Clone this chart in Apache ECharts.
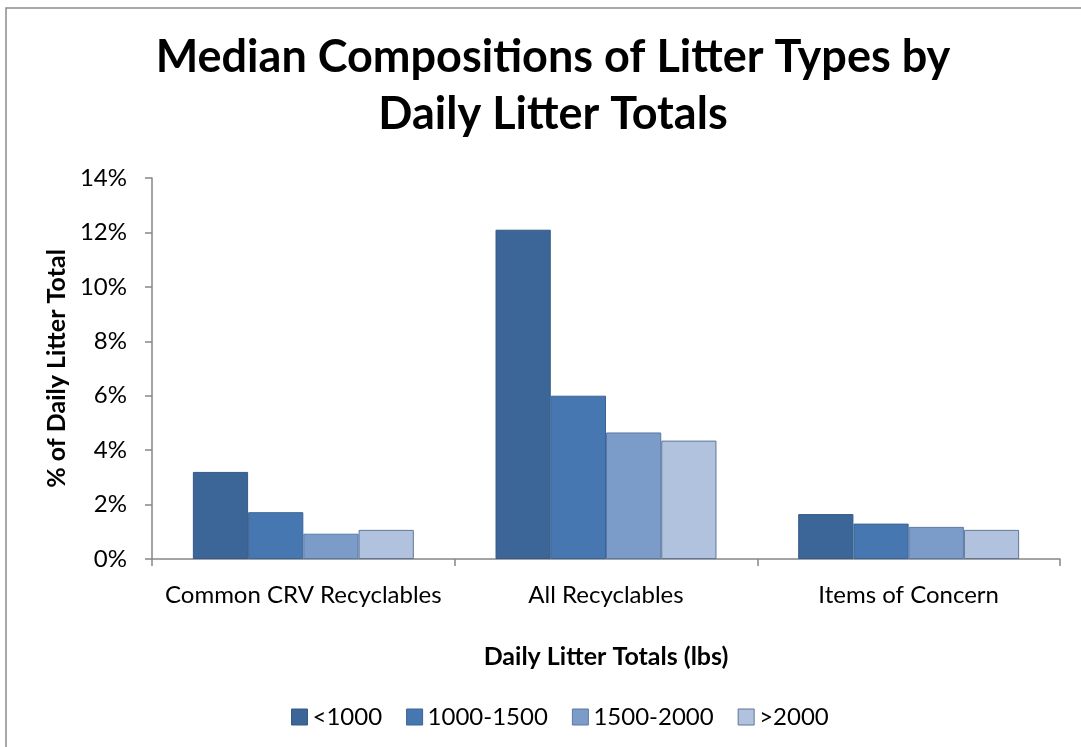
<!DOCTYPE html>
<html>
<head>
<meta charset="utf-8">
<script src="https://cdn.jsdelivr.net/npm/echarts@6/dist/echarts.min.js"></script>
<style>
  html, body { margin: 0; padding: 0; background: #ffffff; }
  #chart { width: 1081px; height: 747px; }
</style>
</head>
<body>
<div id="chart"></div>
<script>
// Litter categories along the x axis
const categories = ['Common CRV Recyclables', 'All Recyclables', 'Items of Concern'];

// Daily litter total bands (lbs)
const bandNames = ['<1000', '1000-1500', '1500-2000', '>2000'];

// Median share of the daily litter total, in percent
const under1000 = [3.2, 12.1, 1.65];
const from1000to1500 = [1.72, 6.0, 1.3];
const from1500to2000 = [0.93, 4.65, 1.18];
const over2000 = [1.07, 4.35, 1.07];

// y axis ticks (percent)
const yTicks = { min: 0, max: 14, interval: 2 };

const fills = ['#3c6698', '#4677b0', '#7b9bc9', '#b1c2de'];
const edges = ['#355a86', '#3a6497', '#5a79a6', '#5f7598'];

const font = 'Lato, "Open Sans", sans-serif';
const seriesValues = [under1000, from1000to1500, from1500to2000, over2000];

const chart = echarts.init(document.getElementById('chart'), null, { renderer: 'canvas' });

chart.setOption({
  backgroundColor: '#ffffff',
  animation: false,
  graphic: [{
    type: 'rect',
    shape: { x: 6, y: 8, width: 1100, height: 800 },
    style: { fill: 'none', stroke: '#8c8c8c', lineWidth: 1.5 },
    silent: true
  }],
  title: {
    text: 'Median Compositions of Litter Types by\nDaily Litter Totals',
    left: 548,
    textAlign: 'center',
    top: 24,
    textStyle: {
      fontFamily: font,
      fontWeight: 'bold',
      fontSize: 45,
      lineHeight: 57,
      color: '#000000'
    }
  },
  legend: {
    data: bandNames,
    top: 700,
    left: 286,
    itemWidth: 16,
    itemHeight: 16,
    itemGap: 24,
    icon: 'rect',
    textStyle: { fontFamily: font, fontSize: 24, color: '#000000' },
    itemStyle: { borderWidth: 1 }
  },
  grid: { left: 152, right: 21, top: 178, bottom: 188, containLabel: false },
  xAxis: {
    type: 'category',
    data: categories,
    name: 'Daily Litter Totals (lbs)',
    nameLocation: 'middle',
    nameGap: 85,
    nameTextStyle: { fontFamily: font, fontWeight: 'bold', fontSize: 25, color: '#000000' },
    axisLine: { lineStyle: { color: '#868686', width: 1.5 } },
    axisTick: { show: true, alignWithLabel: false, length: 7, lineStyle: { color: '#868686', width: 1.5 } },
    axisLabel: { interval: 0, fontFamily: font, fontSize: 24, color: '#000000', margin: 24 }
  },
  yAxis: {
    type: 'value',
    min: yTicks.min,
    max: yTicks.max,
    interval: yTicks.interval,
    name: '% of Daily Litter Total',
    nameLocation: 'middle',
    nameRotate: 90,
    nameGap: 82,
    nameTextStyle: { fontFamily: font, fontWeight: 'bold', fontSize: 25, color: '#000000' },
    axisLine: { show: true, lineStyle: { color: '#868686', width: 1.5 } },
    axisTick: { show: true, length: 7, lineStyle: { color: '#868686', width: 1.5 } },
    splitLine: { show: false },
    axisLabel: { fontFamily: font, fontSize: 24, color: '#000000', margin: 25, formatter: '{value}%' }
  },
  series: bandNames.map((name, i) => ({
    name: name,
    type: 'bar',
    data: seriesValues[i],
    barGap: '0%',
    barCategoryGap: '27%',
    itemStyle: { color: fills[i], borderColor: edges[i], borderWidth: 1 }
  }))
});
</script>
</body>
</html>
